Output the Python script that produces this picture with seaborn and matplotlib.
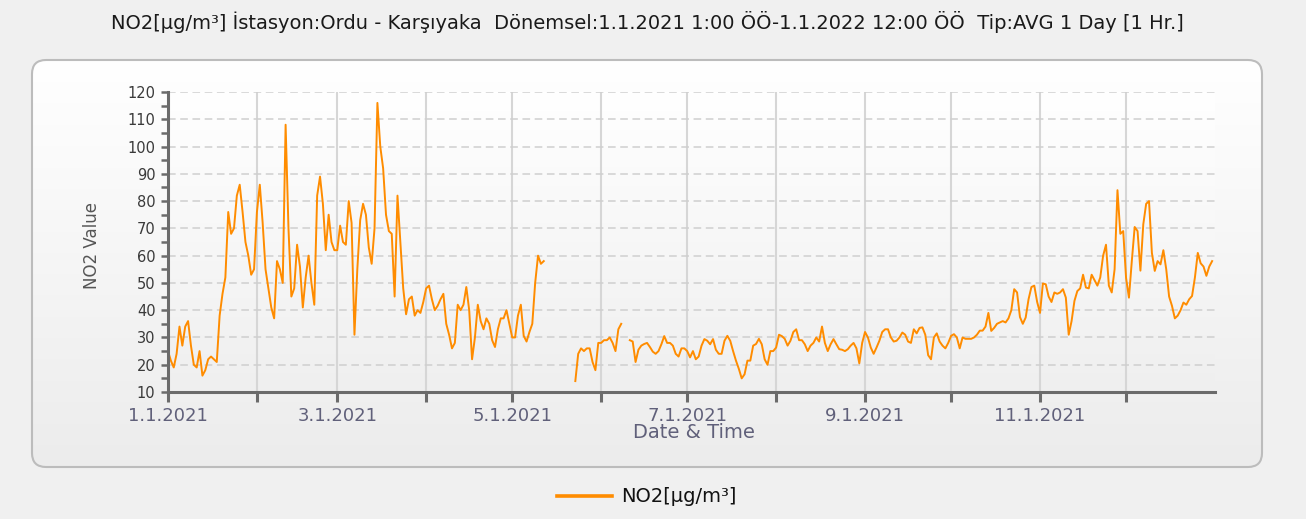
import numpy as np
import pandas as pd
import seaborn as sns
import matplotlib.pyplot as plt
from matplotlib.patches import FancyBboxPatch
from matplotlib.lines import Line2D
from matplotlib.colors import LinearSegmentedColormap

nan = np.nan

# daily NO2 averages, day 0 = 1 Jan 2021
days_000_045 = [25, 21.5, 19, 24, 34, 27, 34, 36, 27, 20,
                19, 25, 16, 18, 22, 23, 22, 21, 38, 46,
                52, 76, 68, 70, 82, 86, 76, 65, 60, 53,
                55, 76, 86, 72, 55, 48, 41, 37, 58, 55,
                50, 108, 70, 45, 48, 64]
days_046_090 = [56, 41, 52, 60, 50, 42, 82, 89, 79, 62,
                75, 65, 62, 62, 71, 65, 64, 80, 72, 31,
                55, 73, 79, 75, 63, 57, 70, 116, 100, 92,
                75, 69, 68, 45, 82, 65, 48, 38.5, 44, 45,
                38, 40, 39, 43, 48]
days_091_131 = [49, 44, 40, 41.6, 44, 46, 35, 31, 26, 28,
                42, 40, 42, 48.5, 40, 22, 30, 42, 36, 33,
                37, 35, 29, 26.5, 33, 37, 37, 40, 35, 30,
                30, 38, 42, 30.6, 28.5, 32, 35, 50, 60, 57, 58]
days_132_141 = [nan] * 10  # no data
days_142_181 = [14, 24, 26, 25, 26, 26, 21, 18, 28, 28,
                29, 29, 30, 28, 25, 33, 35, nan, nan, 29,
                28.5, 21, 25.5, 27, 27.6, 28, 26.5, 24.8, 24, 25,
                27.5, 30.5, 28, 28, 27, 24, 23, 26, 26, 25]
days_182_226 = [22.7, 25, 22, 23, 27, 29.4, 28.8, 27.5, 29.4, 25.5,
                24, 24, 28.8, 30.6, 28.8, 25, 21.5, 18.5, 15, 16.5,
                21.5, 21.5, 27, 27.6, 29.5, 27.5, 22, 20, 25, 25,
                26.3, 31, 30.5, 29.5, 27, 28.8, 32, 33, 29, 29,
                27.5, 25, 27, 28, 30]
days_227_272 = [28.5, 34, 28, 25, 27.5, 29.4, 27.5, 25.7, 25.5, 25,
                25.7, 27, 28, 26, 20.5, 28, 32, 30, 26.3, 24,
                26.3, 28.8, 32, 33, 33, 30, 28.5, 28.8, 30, 31.8,
                31, 28.5, 28, 33, 31.5, 33.5, 33.7, 31, 23.5, 22,
                30, 31.5, 28.5, 27, 26, 28]
days_273_317 = [30.6, 31.2, 30, 26, 30, 29.5, 29.5, 29.5, 30, 31,
                32.5, 32.5, 34, 39, 32.4, 33.5, 35, 35.5, 36, 35.5,
                37, 40, 47.7, 46.5, 37.5, 35, 37.3, 44, 48.5, 49,
                43, 39, 49.8, 49.5, 45, 43, 46.5, 46, 46.5, 47.7,
                44.6, 31, 36, 43.4, 47]
days_318_364 = [48, 53, 48.3, 48, 53, 51, 49, 52, 60, 64,
                49, 46.5, 55, 84, 68, 69, 51.8, 44.6, 58, 70.5,
                69, 54.5, 71.5, 79, 80, 61, 54.4, 58, 56.8, 62,
                55, 45, 41.6, 37, 38, 40, 42.8, 42, 44, 45.2,
                52, 61, 57.2, 56, 52.6, 56, 58]

no2 = (days_000_045 + days_046_090 + days_091_131 + days_132_141 +
       days_142_181 + days_182_226 + days_227_272 + days_273_317 + days_318_364)
dates = pd.date_range('2021-01-01', periods=len(no2), freq='D')

x_tick_dates = pd.date_range('2021-01-01', periods=12, freq='MS')
x_tick_labels = ['1.1.2021', '', '3.1.2021', '', '5.1.2021', '', '7.1.2021', '',
                 '9.1.2021', '', '11.1.2021', '']
y_ticks = list(range(10, 121, 10))

title = ("NO2[µg/m³] İstasyon:Ordu - Karşıyaka  Dönemsel:1.1.2021 1:00 ÖÖ-1.1.2022 12:00 ÖÖ"
         "  Tip:AVG 1 Day [1 Hr.]")
series_label = "NO2[µg/m³]"

df = pd.DataFrame({'date': dates, 'value': no2})
df['seg'] = df['value'].isna().cumsum()  # break the line at gaps
df = df.dropna()

plt.rcParams['font.family'] = ['DejaVu Sans']
W, H = 1306, 519
line_color = '#ff8c00'
fig = plt.figure(figsize=(W / 100, H / 100), dpi=100, facecolor='#f0f0f0')

# background panel with rounded border and soft gradient
bg = fig.add_axes([0, 0, 1, 1], zorder=0)
grad = np.linspace(0, 1, 256).reshape(-1, 1)
panel = FancyBboxPatch((32, 60), 1230, 407, boxstyle='round,pad=0,rounding_size=14',
                       fc='none', ec='#bcbcbc', lw=1.5, zorder=3)
bg.add_patch(panel)
im = bg.imshow(grad, extent=[32, 1262, 467, 60], aspect='auto', zorder=1,
               cmap=LinearSegmentedColormap.from_list('p', ['#ffffff', '#ececec']))
im.set_clip_path(panel)
bg.imshow(grad, extent=[168, 1215, 392, 92], aspect='auto', zorder=2,
          cmap=LinearSegmentedColormap.from_list('a', ['#ffffff', '#efefef']))
bg.set_xlim(0, W)
bg.set_ylim(H, 0)
bg.axis('off')

ax = fig.add_axes([168 / W, 1 - 392 / H, (1215 - 168) / W, 300 / H], zorder=2)
ax.set_facecolor('none')
sns.lineplot(data=df, x='date', y='value', units='seg', estimator=None,
             color=line_color, lw=1.4, ax=ax, legend=False)

ax.set_xlim(pd.Timestamp('2021-01-01'), pd.Timestamp('2022-01-01'))
ax.set_ylim(10, 120)
ax.set_xticks(x_tick_dates)
ax.set_xticklabels(x_tick_labels)
ax.set_yticks(y_ticks)
ax.set_yticks(np.arange(15, 120, 10), minor=True)
ax.set_xlabel('')
ax.set_ylabel('')

ax.xaxis.grid(True, color='#d6d6d6', lw=1.5, ls='-')
ax.yaxis.grid(True, color='#cfcfcf', lw=1.1, ls=(0, (5, 3)))
ax.set_axisbelow(True)

for s in ['top', 'right']:
    ax.spines[s].set_visible(False)
for s in ['left', 'bottom']:
    ax.spines[s].set_color('#6b6b6b')
    ax.spines[s].set_linewidth(2.2)

ax.tick_params(axis='x', direction='out', length=7, width=2.2, color='#6b6b6b',
               labelsize=13, labelcolor='#60607a', pad=4)
ax.tick_params(axis='y', which='both', direction='out', length=5, width=1.8, color='#6b6b6b',
               labelsize=10.5, labelcolor='#3a3a3a', pad=4)

fig.text(647 / W, 1 - 22 / H, title, ha='center', va='center', fontsize=14, color='#1a1a1a')
fig.text(694 / W, 1 - 433 / H, 'Date & Time', ha='center', va='center',
         fontsize=14, color='#60607a')
fig.text(92 / W, 1 - 245 / H, 'NO2 Value', ha='center', va='center', rotation=90,
         fontsize=12, color='#555555', family=['Liberation Sans Narrow', 'DejaVu Sans'])

handle = Line2D([], [], color=line_color, lw=2.6)
fig.legend([handle], [series_label], loc='center', bbox_to_anchor=(647 / W, 1 - 497 / H),
           frameon=False, handlelength=2.8, handletextpad=0.5, fontsize=14,
           labelcolor='#111111')

fig.savefig('out.png', dpi=100, facecolor=fig.get_facecolor())
